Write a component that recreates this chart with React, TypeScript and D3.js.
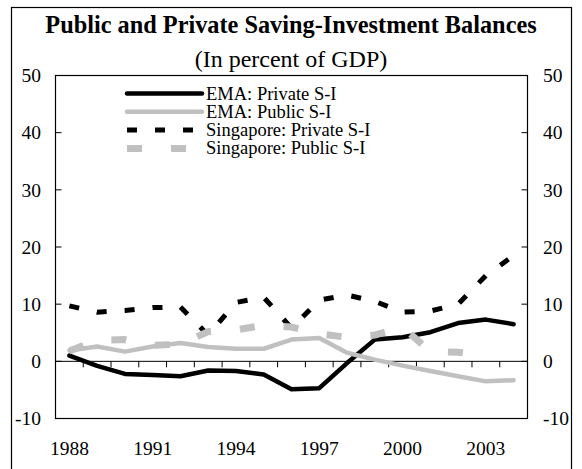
import React from "react";
import * as d3 from "d3";

const years = [1988, 1989, 1990, 1991, 1992, 1993, 1994, 1995, 1996, 1997, 1998, 1999, 2000, 2001, 2002, 2003, 2004];
const emaPrivate = [1.0, -0.8, -2.2, -2.4, -2.6, -1.6, -1.7, -2.3, -4.9, -4.7, -0.3, 3.8, 4.2, 5.1, 6.7, 7.3, 6.5];
const emaPublic = [1.9, 2.6, 1.7, 2.6, 3.2, 2.5, 2.2, 2.2, 3.8, 4.1, 1.5, 0.3, -0.75, -1.7, -2.6, -3.5, -3.3];
const sgPrivate = [9.7, 8.6, 8.9, 9.4, 9.5, 4.6, 10.3, 11.2, 5.8, 10.7, 11.6, 10.5, 8.6, 8.8, 10.0, 15.0, 18.5];
const sgPublic = [1.8, 3.7, 3.8, 2.8, 3.0, 5.2, 5.5, 6.3, 6.0, 4.8, 4.2, 4.6, 6.0, 1.7, 1.6, 0.9];
const yTicks = [-10, 0, 10, 20, 30, 40, 50];
const xLabels = [1988, 1991, 1994, 1997, 2000, 2003];

const GRAY = "#c0c0c0";
const FONT = "'Times New Roman', 'Liberation Serif', serif";

const series = [
  { name: "EMA: Private S-I", values: emaPrivate, color: "#000", width: 4.5, dash: null },
  { name: "EMA: Public S-I", values: emaPublic, color: GRAY, width: 4.5, dash: null },
  { name: "Singapore: Private S-I", values: sgPrivate, color: "#000", width: 5, dash: "10,18" },
  { name: "Singapore: Public S-I", values: sgPublic, color: GRAY, width: 7, dash: "15,29" },
];

export default function App() {
  const width = 582;
  const height = 469;
  const left = 55.5, right = 527.5, top = 75.5, bottom = 418.5;

  const x = d3.scaleBand<number>().domain(years).range([left, right]);
  const y = d3.scaleLinear().domain([-10, 50]).range([bottom, top]);
  const cx = (yr: number) => (x(yr) as number) + x.bandwidth() / 2;

  const line = (vals: number[]) =>
    d3.line<number>()
      .x((_, i) => cx(years[i]))
      .y((d) => y(d))(vals) as string;

  const y0 = y(0);

  return (
    <svg width={width} height={height} style={{ position: "absolute", left: 0, top: 0 }} fontFamily={FONT}>
      <rect x={11.5} y={7.5} width={560} height={470} fill="#fff" stroke="#000" strokeWidth={1.2} />
      <text x={291} y={33} textAnchor="middle" fontSize={24.3} fontWeight="bold">
        Public and Private Saving-Investment Balances
      </text>
      <text x={291} y={67} textAnchor="middle" fontSize={24}>
        (In percent of GDP)
      </text>

      <rect x={left} y={top} width={right - left} height={bottom - top} fill="none" stroke="#000" strokeWidth={1.2} />

      {yTicks.map((t) => (
        <g key={t}>
          <line x1={left} x2={left + 6} y1={y(t)} y2={y(t)} stroke="#000" strokeWidth={1} />
          <line x1={right - 6} x2={right} y1={y(t)} y2={y(t)} stroke="#000" strokeWidth={1} />
          <text x={41} y={y(t)} dy="0.35em" textAnchor="end" fontSize={19.5}>{t}</text>
          <text x={543} y={y(t)} dy="0.35em" textAnchor="start" fontSize={19.5}>{t}</text>
        </g>
      ))}

      <line x1={left} x2={right} y1={y0} y2={y0} stroke="#000" strokeWidth={1} />
      {years.slice(1).map((yr) => (
        <line key={yr} x1={x(yr)} x2={x(yr)} y1={y0} y2={y0 + 6} stroke="#000" strokeWidth={1} />
      ))}
      {xLabels.map((yr) => (
        <text key={yr} x={cx(yr)} y={455} textAnchor="middle" fontSize={19.5}>{yr}</text>
      ))}

      {series.map((s) => (
        <path
          key={s.name}
          d={line(s.values)}
          fill="none"
          stroke={s.color}
          strokeWidth={s.width}
          strokeDasharray={s.dash ?? undefined}
          strokeLinejoin="round"
          strokeLinecap={s.dash ? "butt" : "round"}
        />
      ))}

      {series.map((s, i) => {
        const ly = 93.5 + i * 18.3;
        return (
          <g key={s.name}>
            <line
              x1={127}
              x2={202}
              y1={ly}
              y2={ly}
              stroke={s.color}
              strokeWidth={s.width}
              strokeDasharray={s.dash ?? undefined}
              strokeLinecap={s.dash ? "butt" : "round"}
            />
            <text x={206} y={ly + 6} fontSize={18.5}>{s.name}</text>
          </g>
        );
      })}
    </svg>
  );
}
